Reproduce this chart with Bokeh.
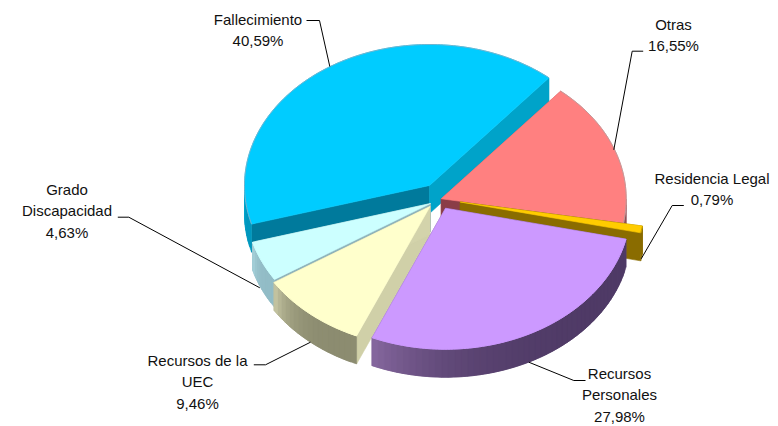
import math
from bokeh.plotting import figure
from bokeh.embed import file_html
from bokeh.resources import INLINE
from bokeh.core.properties import value

# data
labels = ["Fallecimiento", "Otras", "Residencia Legal", "Recursos Personales", "Recursos de la UEC", "Grado Discapacidad"]
shares = [40.59, 16.55, 0.79, 27.98, 9.46, 4.63]
share_text = ["40,59%", "16,55%", "0,79%", "27,98%", "9,46%", "4,63%"]

# layout (in picture pixels)
W, H = 778, 426
START = -105.9
A, B, DEPTH = 185.0, 141.0, 28.0
APEX_X = [429.0, 440.7, 459.7, 445.0, 429.5, 430.0]
APEX_Y = [185.0, 198.3, 201.5, 207.7, 206.0, 203.0]
TOPS = ["#00ccff", "#ff8080", "#ffcc00", "#cc99ff", "#ffffcc", "#ccffff"]
CUT_START = ["#007a9c", "#b85c5c", "#8a6c00", "#6b4f8a", "#d0d0a8", "#8fb4bb"]   # face at the start angle
CUT_END = ["#00a3c9", "#8a3d47", "#8a6c00", "#6b4f8a", "#d3d3ab", "#8fb4bb"]     # face at the end angle
WALL_L = ["#00a8d0", "#a06060", "#8a6c00", "#86689f", "#c9c9a5", "#a8d3dc"]
WALL_R = ["#0098bf", "#8f4f55", "#8a6c00", "#4f3a66", "#8c8c70", "#92bcc6"]
EDGE = ["#6fb4cf", "#c09a9a", "#c09a00", "#cc99ff", "#ffffcc", "#ccffff"]
DRAW_ORDER = [0, 1, 2, 5, 4, 3]

LABELS = [
    (["Fallecimiento", share_text[0]], 257.5, 19),
    (["Otras", share_text[1]], 673, 24),
    (["Residencia Legal", share_text[2]], 711.5, 178),
    (["Recursos", "Personales", share_text[3]], 619, 373),
    (["Recursos de la", "UEC", share_text[4]], 197, 360),
    (["Grado", "Discapacidad", share_text[5]], 66.5, 189),
]
LINE_H = 21.3
LEADERS = [
    ([306, 319, 329.3], [20, 20, 66]),
    ([642.7, 631.7, 613.3], [50.7, 50.7, 149.3]),
    ([683.3, 671.7, 640.7], [205, 205, 258.3]),
    ([585, 573.3, 528.3], [380, 380, 361.7]),
    ([253.3, 265, 310], [364.3, 364.3, 341.7]),
    ([117.3, 128.3, 259.3], [216.7, 216.7, 287.3]),
]

p = figure(width=W, height=H, x_range=(0, W), y_range=(H, 0),
           output_backend="svg", toolbar_location=None, min_border=0,
           outline_line_color=None, background_fill_color="white")
p.axis.visible = False
p.grid.visible = False


def pt(i, deg, dz=0.0):
    r = math.radians(deg)
    return APEX_X[i] + A * math.sin(r), APEX_Y[i] - B * math.cos(r) + dz


def arc(i, a0, a1, dz=0.0):
    n = max(2, int(abs(a1 - a0)) + 2)
    return [pt(i, a0 + (a1 - a0) * k / (n - 1), dz) for k in range(n)]


def mix(c0, c1, f):
    v0 = [int(c0[j:j + 2], 16) for j in (1, 3, 5)]
    v1 = [int(c1[j:j + 2], 16) for j in (1, 3, 5)]
    return "#%02x%02x%02x" % tuple(round(a + (b - a) * f) for a, b in zip(v0, v1))


def poly(pts, color, lc=None):
    p.patch([q[0] for q in pts], [q[1] for q in pts], fill_color=color,
            line_color=lc or color, line_width=0.6)


edges = []
acc = START
for s in shares:
    edges.append((acc, acc + s * 3.6))
    acc += s * 3.6

for i in DRAW_ORDER:
    a0, a1 = edges[i]
    apex = (APEX_X[i], APEX_Y[i])
    apex_low = (APEX_X[i], APEX_Y[i] + DEPTH)
    # cut faces
    for deg, col in ((a0, CUT_START[i]), (a1, CUT_END[i])):
        poly([apex, pt(i, deg), pt(i, deg, DEPTH), apex_low], col)
    # visible outer wall: the front half, 90..270 degrees clockwise from the top
    for shift in (0, -360, 360):
        lo, hi = max(a0 + shift, 90), min(a1 + shift, 270)
        if hi <= lo:
            continue
        steps = max(1, int((hi - lo) / 2))
        for k in range(steps):
            d0 = lo + (hi - lo) * k / steps
            d1 = min(hi, lo + (hi - lo) * (k + 2) / steps)   # overlaps the next one, so no seams
            f = (k + 0.5) / steps
            # lighter at the left end of the wall
            col = mix(WALL_R[i], WALL_L[i], f ** 4)
            poly(arc(i, d0, d1) + arc(i, d1, d0, DEPTH), col)
    # top face
    top = [apex] + arc(i, a0, a1)
    poly(top, TOPS[i], TOPS[i])
    rim = arc(i, a0, a1)
    p.line([q[0] for q in rim], [q[1] for q in rim], line_color=EDGE[i], line_width=1)

for (xs, ys) in LEADERS:
    p.line(xs, ys, line_color="black", line_width=1)

for (lines, x, y) in LABELS:
    for k, t in enumerate(lines):
        p.text([x], [y + k * LINE_H], text=[t], text_align="center", text_baseline="middle",
               text_font=value("Liberation Sans"), text_font_size="15px", text_color="#111111")

open("out.html", "w").write(file_html(p, INLINE))
